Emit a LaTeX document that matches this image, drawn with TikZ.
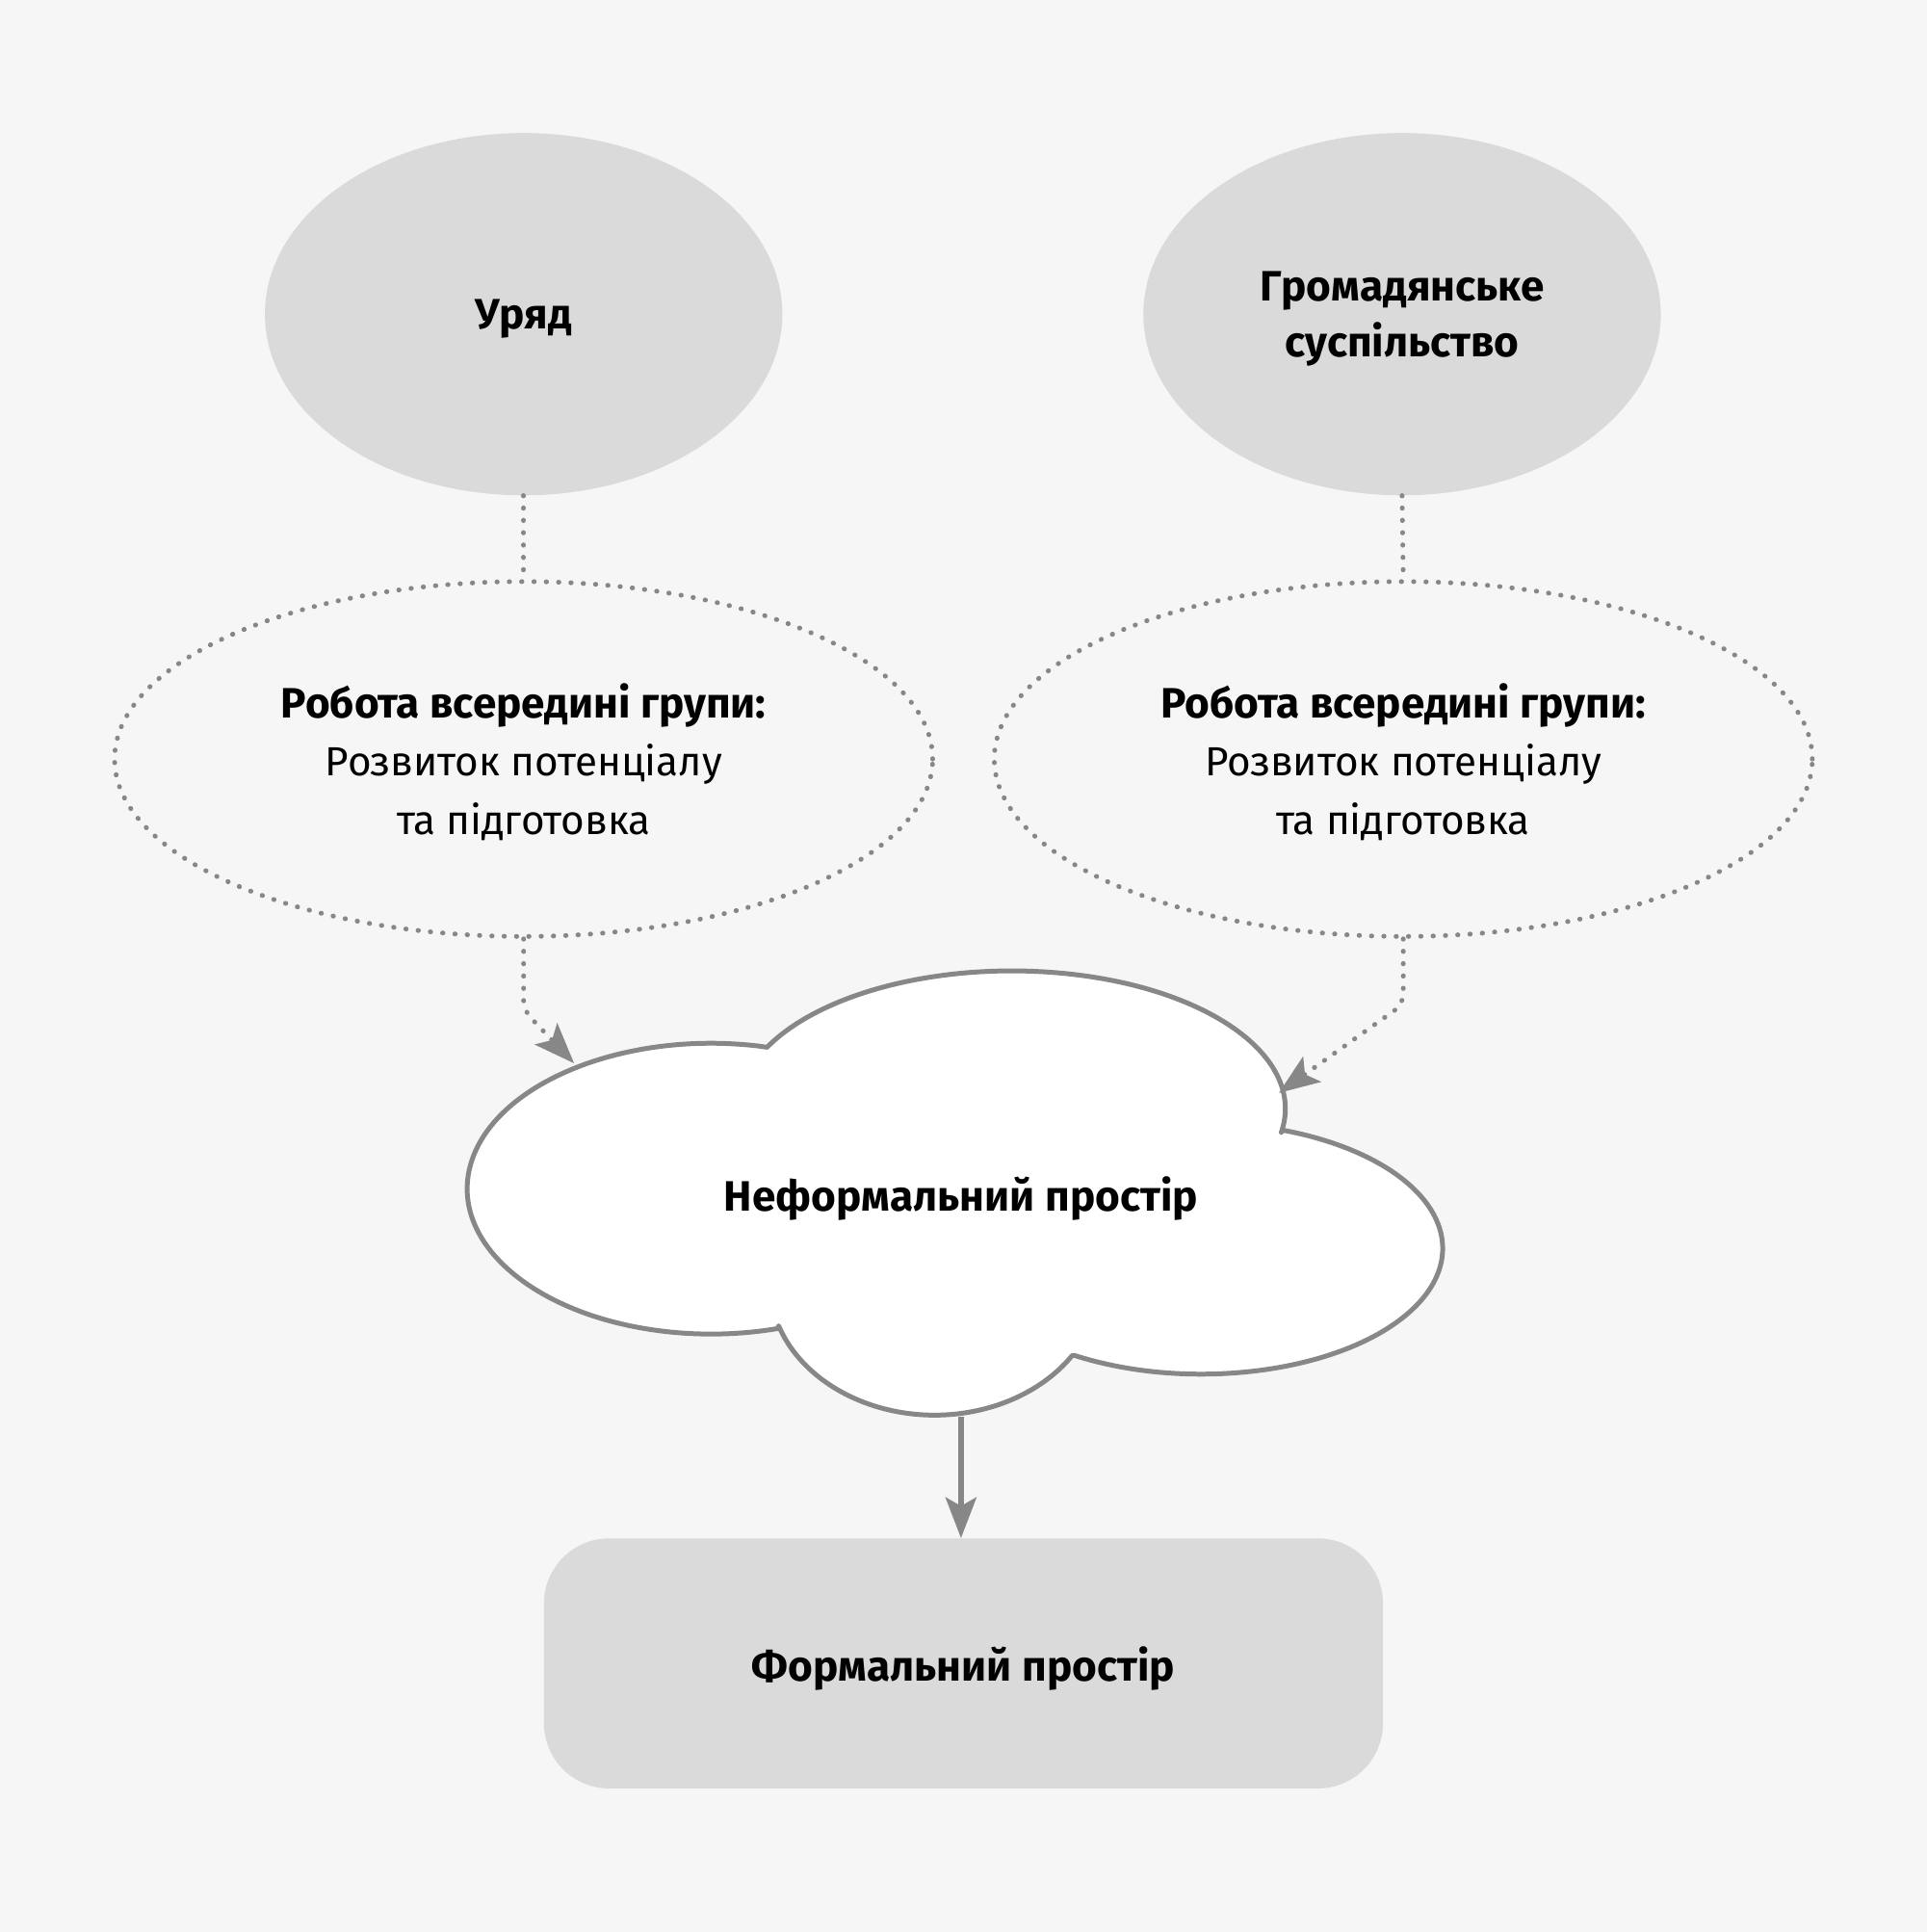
\documentclass[tikz,border=0pt]{standalone}
\usepackage{fontspec}
\setmainfont{Fira Sans}
\usepackage{xcolor}
\usepackage{tikz}
\usetikzlibrary{arrows.meta,shapes.geometric}
\definecolor{bggray}{HTML}{F6F6F6}
\definecolor{boxgray}{HTML}{DADADA}
\definecolor{linegray}{HTML}{878787}
\newcommand{\headfont}{\fontsize{34.5}{46}\selectfont\bfseries}
\tikzset{
    actor/.style={ellipse,fill=boxgray,draw=none,inner sep=0pt,text depth=-2pt,
        minimum width=420,minimum height=294,align=center,font=\headfont},
    workgroup/.style={ellipse,draw=linegray,line width=3.9,
        dash pattern=on 0.3 off 9.7,line cap=round,inner sep=0pt,text depth=-2pt,
        minimum width=664,minimum height=288,align=center,
        font=\fontsize{33}{47}\selectfont},
    dotline/.style={draw=linegray,line width=3.9,dash pattern=on 0.3 off 9.7,line cap=round},
    solidline/.style={draw=linegray,line width=4.4},
    tip/.style={-{Stealth[length=33,width=25,inset=7]}},
}
\begin{document}
\begin{tikzpicture}[x=1pt,y=-1pt]
            \fill[bggray] (0,0) rectangle (1564,1568);
            \useasboundingbox (0,0) rectangle (1564,1568);
            % top row
            \node[actor] (gov) at (425,255) {Уряд};
            \node[actor] (civ) at (1138,255) {Громадянське\\суспільство};
            \node[workgroup] (wl) at (425,616) {{\headfont Робота всередині групи:}\\Розвиток потенціалу\\та підготовка};
            \node[workgroup] (wr) at (1139,616) {{\headfont Робота всередині групи:}\\Розвиток потенціалу\\та підготовка};
            % cloud
            \draw[linegray,fill=white,line width=3.9,line join=round] (616,849)
                arc[start angle=-78.7,end angle=-285.8,x radius=198,y radius=118] -- (632,1076)
                arc[start angle=160.8,end angle=33.6,x radius=134,y radius=108] -- (872,1100)
                arc[start angle=121.7,end angle=-70.2,x radius=196,y radius=102] -- (1040,919)
                arc[start angle=9.8,end angle=-153.5,x radius=222,y radius=112] -- cycle;
            \node[font=\headfont,text depth=-2pt] (cloud) at (780,969) {Неформальний простір};
            \coordinate (cl-in-l) at (466,863);
            \coordinate (cl-in-r) at (1038,887);
            \coordinate (cl-out) at (780,1150);
            % bottom box
            \node[fill=boxgray,rounded corners=53,minimum width=681,minimum height=203,
                font=\headfont,text depth=-2pt] (formal) at (782,1350) {Формальний простір};
            % connectors
            \draw[dotline] (gov.south) -- (wl.north);
            \draw[dotline] (civ.south) -- (wr.north);
            \draw[dotline,tip,rounded corners=8] (wl.south) -- ++(0,58) -- (cl-in-l);
            \draw[dotline,tip,rounded corners=8] (wr.south) -- ++(0,53) -- (cl-in-r);
            \draw[solidline,tip] (cl-out) -- (cl-out |- formal.north);
          \end{tikzpicture}
\end{document}
